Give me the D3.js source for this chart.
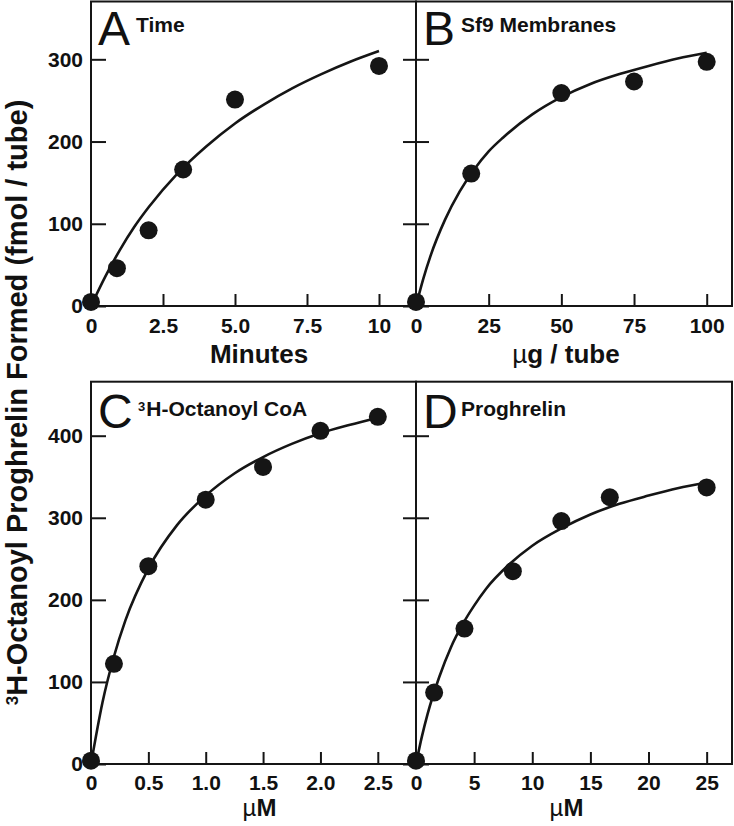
<!DOCTYPE html>
<html><head><meta charset="utf-8">
<script src="https://cdn.jsdelivr.net/npm/d3@7"></script>
<style>
body{margin:0;background:#fff}
svg{display:block}
text{font-family:"Liberation Sans",Arial,Helvetica,sans-serif;fill:#111}
</style></head>
<body><svg id="chart" width="734" height="826"></svg>
<script>
// ---------- data ----------
const panelLetters = ["A", "B", "C", "D"];
const panelTitles = ["Time", "Sf9 Membranes", "H-Octanoyl CoA", "Proghrelin"];
const xTitles = ["Minutes", "g / tube", "M", "M"];
const yTitle = "H-Octanoyl Proghrelin Formed (fmol / tube)";

const timeX = [0, 0.9, 2, 3.2, 5, 10];
const timeY = [5, 46, 92, 166, 251, 292];
const timeFitX = [0, 0.5, 1, 1.5, 2, 3, 4, 5, 6, 7, 8, 9, 10];
const timeFitY = [0, 36, 68, 96, 120, 161, 194, 222, 245, 265, 282, 297, 310];

const membraneX = [0, 19, 50, 75, 100];
const membraneY = [5, 161, 259, 273, 297];
const membraneFitX = [0, 2.5, 5, 10, 15, 20, 25, 30, 40, 50, 60, 70, 80, 90, 100];
const membraneFitY = [0, 33, 61, 105, 139, 166, 188, 205, 233, 254, 270, 282, 292, 301, 308];

const acylX = [0, 0.2, 0.5, 1.0, 1.5, 2.0, 2.5];
const acylY = [4, 122, 241, 322, 362, 406, 423];
const acylFitX = [0, 0.1, 0.2, 0.3, 0.5, 0.75, 1, 1.25, 1.5, 1.75, 2, 2.25, 2.5];
const acylFitY = [0, 75, 131, 175, 238, 291, 327, 354, 374, 390, 403, 413, 422];

const proX = [0, 1.56, 4.17, 8.33, 12.5, 16.67, 25];
const proY = [4, 87, 165, 235, 296, 325, 337];
const proFitX = [0, 0.5, 1, 2, 3, 4, 5, 6, 8, 10, 12.5, 15, 17.5, 20, 22.5, 25];
const proFitY = [0, 33, 61, 106, 142, 170, 193, 213, 243, 266, 287, 304, 317, 327, 336, 343];

const timeTicks = [0, 2.5, 5, 7.5, 10];
const timeTickText = ["0", "2.5", "5.0", "7.5", "10"];
const membraneTicks = [0, 25, 50, 75, 100];
const membraneTickText = ["0", "25", "50", "75", "100"];
const acylTicks = [0, 0.5, 1, 1.5, 2, 2.5];
const acylTickText = ["0", "0.5", "1.0", "1.5", "2.0", "2.5"];
const proTicks = [0, 5, 10, 15, 20, 25];
const proTickText = ["0", "5", "10", "15", "20", "25"];
const topYTicks = [0, 100, 200, 300];
const bottomYTicks = [0, 100, 200, 300, 400];

// ---------- layout ----------
const L = 91, M = 416, R = 732;
const rows = [
  {top: 1.5, bottom: 306, yMax: 370.3, yTicks: topYTicks, titleY: 363, titleSize: 26, pad: 12},
  {top: 381.7, bottom: 764, yMax: 465.8, yTicks: bottomYTicks, titleY: 816, titleSize: 24, pad: 11}
];
const panels = [
  {i: 0, row: 0, left: true, px: timeX, py: timeY, fx: timeFitX, fy: timeFitY, xMax: 11.285, ticks: timeTicks, tickText: timeTickText, titleX: 259},
  {i: 1, row: 0, left: false, px: membraneX, py: membraneY, fx: membraneFitX, fy: membraneFitY, xMax: 108.7, ticks: membraneTicks, tickText: membraneTickText, titleX: 566},
  {i: 2, row: 1, left: true, px: acylX, py: acylY, fx: acylFitX, fy: acylFitY, xMax: 2.833, ticks: acylTicks, tickText: acylTickText, titleX: 259.5},
  {i: 3, row: 1, left: false, px: proX, py: proY, fx: proFitX, fy: proFitY, xMax: 27.18, ticks: proTicks, tickText: proTickText, titleX: 566.5}
];

const svg = d3.select("#chart");
const ink = "#151515";

panels.forEach(p => {
  const row = rows[p.row];
  const x0 = p.left ? L : M, x1 = p.left ? M : R;
  const x = d3.scaleLinear().domain([0, p.xMax]).range([x0, x1]);
  const y = d3.scaleLinear().domain([0, row.yMax]).range([row.bottom, row.top]);
  const g = svg.append("g");

  // frame
  g.append("rect").attr("x", x0).attr("y", row.top).attr("width", x1 - x0).attr("height", row.bottom - row.top)
    .attr("fill", "none").attr("stroke", ink).attr("stroke-width", 2);

  // x axis
  const xa = g.append("g").attr("transform", `translate(0,${row.bottom})`)
    .call(d3.axisBottom(x).tickValues(p.ticks).tickFormat((d, k) => p.tickText[k])
      .tickSizeInner(-12).tickSizeOuter(0).tickPadding(row.pad));
  xa.select(".domain").remove();
  xa.selectAll("line").attr("stroke", ink).attr("stroke-width", 2);
  xa.selectAll("text").attr("font-family", null).attr("font-size", 21).attr("font-weight", "bold").attr("fill", ink);

  // y axis
  if (p.left) {
    const ya = g.append("g").attr("transform", `translate(${L},0)`)
      .call(d3.axisLeft(y).tickValues(row.yTicks).tickSizeInner(-15).tickSizeOuter(0).tickPadding(8));
    ya.select(".domain").remove();
    ya.selectAll("line").attr("stroke", ink).attr("stroke-width", 2);
    ya.selectAll("text").attr("font-family", null).attr("font-size", 21).attr("font-weight", "bold").attr("fill", ink);
  } else {
    [d3.axisLeft(y), d3.axisRight(y)].forEach(ax => {
      const ya = g.append("g").attr("transform", `translate(${M},0)`)
        .call(ax.tickValues(row.yTicks).tickSize(13).tickFormat(""));
      ya.select(".domain").remove();
      ya.selectAll("line").attr("stroke", ink).attr("stroke-width", 2);
    });
  }

  // fitted curve
  const fit = p.fx.map((v, k) => [v, p.fy[k]]);
  g.append("path").datum(fit)
    .attr("d", d3.line().x(d => x(d[0])).y(d => y(d[1])).curve(d3.curveMonotoneX))
    .attr("fill", "none").attr("stroke", ink).attr("stroke-width", 2.6);

  // points
  g.selectAll("circle.pt").data(p.px.map((v, k) => [v, p.py[k]])).join("circle")
    .attr("class", "pt").attr("cx", d => x(d[0])).attr("cy", d => y(d[1])).attr("r", 9).attr("fill", ink);

  // panel letter + title
  const letterBase = row.top + (p.row === 0 ? 43.5 : 46.3);
  const titleBase = row.top + (p.row === 0 ? 30.5 : 33.8);
  g.append("text").attr("x", x0 + 7).attr("y", letterBase).attr("font-size", 48).attr("fill", ink).text(panelLetters[p.i]);
  const t = g.append("text").attr("x", x0 + (p.i === 2 ? 47 : 45)).attr("y", titleBase)
    .attr("font-size", 21).attr("font-weight", "bold").attr("fill", ink);
  if (p.i === 2) {
    t.append("tspan").attr("font-size", 13).attr("dy", -5).text("3");
    t.append("tspan").attr("dy", 5).attr("dx", 1).text(panelTitles[p.i]);
  } else {
    t.text(panelTitles[p.i]);
  }

  // x title
  const xt = svg.append("text").attr("x", p.titleX).attr("y", row.titleY).attr("text-anchor", "middle")
    .attr("font-size", row.titleSize).attr("font-weight", "bold").attr("fill", ink);
  if (p.i === 0) {
    xt.text(xTitles[p.i]);
  } else {
    xt.append("tspan").attr("font-weight", "normal").text("\u00B5");
    xt.append("tspan").text(xTitles[p.i]);
  }
});

// shared y title
const yt = svg.append("text").attr("transform", "translate(27,402.5) rotate(-90)")
  .attr("text-anchor", "middle").attr("font-size", 29).attr("font-weight", "bold").attr("fill", ink);
yt.append("tspan").attr("font-size", 17).attr("dy", -9).text("3");
yt.append("tspan").attr("dy", 9).text(yTitle);
</script>
</body></html>
